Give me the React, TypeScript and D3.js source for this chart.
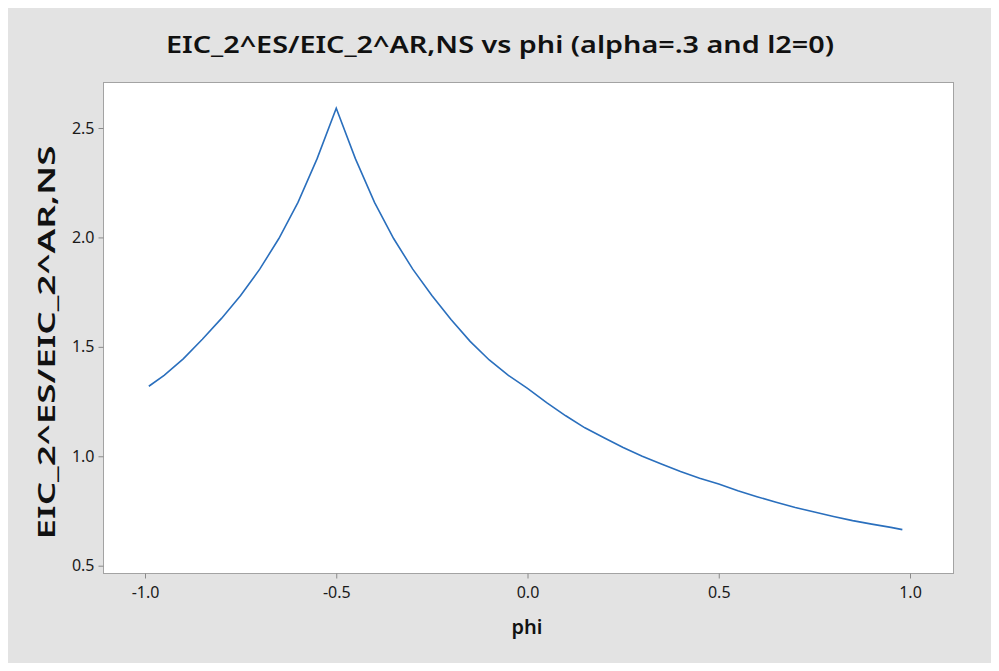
import React, { useEffect, useRef } from 'react';
import * as d3 from 'd3';

// values
const phi = [
  -0.99, -0.95, -0.9, -0.85, -0.8, -0.75, -0.7, -0.65, -0.6, -0.55, -0.5,
  -0.45, -0.4, -0.35, -0.3, -0.25, -0.2, -0.15, -0.1, -0.05, 0, 0.05, 0.1,
  0.15, 0.2, 0.25, 0.3, 0.35, 0.4, 0.45, 0.5, 0.55, 0.6, 0.65, 0.7, 0.75,
  0.8, 0.85, 0.9, 0.95, 0.98,
];
const ratio = [
  1.32, 1.37, 1.445, 1.535, 1.63, 1.735, 1.855, 1.995, 2.16, 2.36, 2.59,
  2.36, 2.16, 1.995, 1.855, 1.735, 1.625, 1.525, 1.44, 1.37, 1.31, 1.245, 1.185,
  1.13, 1.085, 1.04, 1.0, 0.965, 0.93, 0.9, 0.873, 0.842, 0.815, 0.79, 0.766, 0.745,
  0.725, 0.706, 0.69, 0.675, 0.665,
];
const xTicks = [-1.0, -0.5, 0.0, 0.5, 1.0];
const yTicks = [0.5, 1.0, 1.5, 2.0, 2.5];

const titleText = 'EIC_2^ES/EIC_2^AR,NS vs phi (alpha=.3 and l2=0)';
const xLabel = 'phi';
const yLabel = 'EIC_2^ES/EIC_2^AR,NS';

const W = 999;
const H = 671;
const font = '"Noto Sans", "Open Sans", sans-serif';
const fmt = (d: number) => d.toFixed(1);

const Chart = () => {
  const ref = useRef<SVGSVGElement>(null);

  useEffect(() => {
    const svg = d3.select(ref.current);
    svg.selectAll('*').remove();

    const plot = { left: 103, top: 82, right: 953, bottom: 573 };
    const x = d3.scaleLinear().domain([-1, 1]).range([145, 910]);
    const y = d3.scaleLinear().domain([0.5, 2.5]).range([565.7, 128]);

    // frame
    svg
      .append('rect')
      .attr('x', 0.5)
      .attr('y', 0.5)
      .attr('width', W - 2)
      .attr('height', H - 2)
      .attr('fill', '#e3e3e3')
      .attr('stroke', '#c4c4c4');

    svg
      .append('rect')
      .attr('x', plot.left + 0.5)
      .attr('y', plot.top + 0.5)
      .attr('width', plot.right - plot.left)
      .attr('height', plot.bottom - plot.top)
      .attr('fill', '#ffffff')
      .attr('stroke', '#a3a3a3');

    // x axis
    const xa = svg
      .append('g')
      .attr('transform', `translate(0,${plot.bottom + 0.5})`)
      .call(d3.axisBottom(x).tickValues(xTicks).tickSize(5).tickPadding(8).tickFormat(fmt));
    xa.select('.domain').remove();
    xa.selectAll('line').attr('stroke', '#8a8a8a');
    xa.selectAll('text')
      .attr('font-family', font)
      .attr('font-size', 16)
      .attr('fill', '#1a1a1a');

    // y axis
    const ya = svg
      .append('g')
      .attr('transform', `translate(${plot.left + 0.5},0)`)
      .call(d3.axisLeft(y).tickValues(yTicks).tickSize(5).tickPadding(4).tickFormat(fmt));
    ya.select('.domain').remove();
    ya.selectAll('line').attr('stroke', '#8a8a8a');
    ya.selectAll('text')
      .attr('font-family', font)
      .attr('font-size', 16)
      .attr('fill', '#1a1a1a');

    // line
    const line = d3
      .line<number>()
      .x((_, i) => x(phi[i]))
      .y((d) => y(d));
    svg
      .append('path')
      .datum(ratio)
      .attr('d', line)
      .attr('fill', 'none')
      .attr('stroke', '#2a6fbd')
      .attr('stroke-width', 1.6);

    // title and labels
    svg
      .append('text')
      .attr('x', 500)
      .attr('y', 53)
      .attr('text-anchor', 'middle')
      .attr('font-family', font)
      .attr('font-size', 24)
      .attr('font-weight', 600)
      .attr('fill', '#111')
      .attr('textLength', 668)
      .attr('lengthAdjust', 'spacingAndGlyphs')
      .text(titleText);

    svg
      .append('text')
      .attr('x', 527)
      .attr('y', 634)
      .attr('text-anchor', 'middle')
      .attr('font-family', font)
      .attr('font-size', 20)
      .attr('font-weight', 600)
      .attr('fill', '#111')
      .text(xLabel);

    svg
      .append('text')
      .attr('transform', `translate(55,${(145 + 540) / 2}) rotate(-90)`)
      .attr('text-anchor', 'middle')
      .attr('font-family', font)
      .attr('font-size', 24)
      .attr('font-weight', 600)
      .attr('fill', '#111')
      .attr('textLength', 394)
      .attr('lengthAdjust', 'spacingAndGlyphs')
      .text(yLabel);
  }, []);

  return <svg ref={ref} width={W} height={H} style={{ display: 'block' }} />;
};

export default function App() {
  return (
    <div style={{ margin: -8 }}>
      <Chart />
    </div>
  );
}
